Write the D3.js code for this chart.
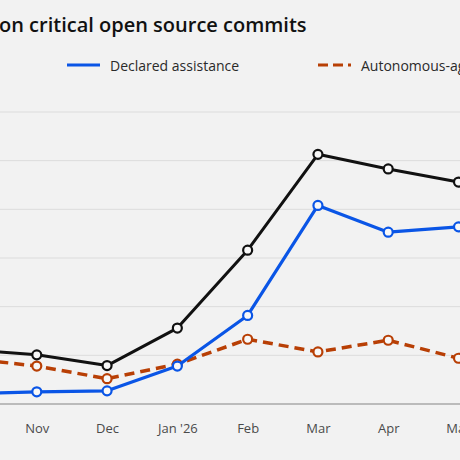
<!DOCTYPE html>
<html lang="en">
<head>
    <meta charset="UTF-8">
    <title>AI assistance on critical open source commits</title>
    <script src="https://d3js.org/d3.v7.min.js"></script>
    <style>
        html, body { margin: 0; padding: 0; background: #f2f2f2; overflow: hidden; }
        svg { display: block; font-family: "Open Sans", "Noto Sans", sans-serif; }
    </style>
</head>
<body>
    <div id="chart"></div>
    <script>
        // data (percent of commits)
        const months = ["Oct", "Nov", "Dec", "Jan '26", "Feb", "Mar", "Apr", "May"];
        const total = [1.12, 1.01, 0.79, 1.56, 3.16, 5.13, 4.83, 4.56];
        const declared = [0.21, 0.25, 0.27, 0.78, 1.82, 4.08, 3.53, 3.64];
        const autonomous = [0.94, 0.78, 0.52, 0.82, 1.33, 1.07, 1.31, 0.94];
        const yTicks = [0, 1, 2, 3, 4, 5, 6];

        const width = 460;
        const height = 460;

        const svg = d3.select("#chart").append("svg")
            .attr("width", width)
            .attr("height", height);

        // the view is a crop of a wider chart: Oct sits off the left edge
        const x = d3.scalePoint()
            .domain(months)
            .range([-33.5, 458.5]);

        const y = d3.scaleLinear()
            .domain([0, 6])
            .range([404, 112]);

        // gridlines
        svg.append("g")
            .selectAll("line")
            .data(yTicks.slice(1))
            .enter()
            .append("line")
            .attr("x1", 0)
            .attr("x2", width)
            .attr("y1", d => y(d))
            .attr("y2", d => y(d))
            .attr("stroke", "#dcdcdc")
            .attr("stroke-width", 1);

        // x axis (only the months that fall inside the view get a label)
        const xAxis = svg.append("g")
            .attr("transform", `translate(0, ${y(0)})`)
            .call(d3.axisBottom(x)
                .tickValues(months.filter(m => x(m) >= 0))
                .tickSize(0)
                .tickPadding(20));
        xAxis.select(".domain")
            .attr("d", `M0,0H${width}`)
            .attr("stroke", "#a8a8a8")
            .attr("stroke-width", 1.5);
        xAxis.selectAll("text")
            .style("font-size", "13px")
            .style("fill", "#4a4a4a")
            .style("font-family", "'Open Sans', sans-serif");

        const series = [
            { values: total, color: "#111111", width: 3, dash: null },
            { values: declared, color: "#0a55e6", width: 3.2, dash: null },
            { values: autonomous, color: "#b83f05", width: 3.5, dash: "10,6" }
        ];

        const line = d3.line()
            .x((d, i) => x(months[i]))
            .y(d => y(d));

        // draw the dashed one first so the solid lines sit on top where they cross
        [series[2], series[0], series[1]].forEach(s => {
            svg.append("path")
                .datum(s.values)
                .attr("d", line)
                .attr("fill", "none")
                .attr("stroke", s.color)
                .attr("stroke-width", s.width)
                .attr("stroke-dasharray", s.dash)
                .attr("stroke-linejoin", "round");

            svg.append("g")
                .selectAll("circle")
                .data(s.values)
                .enter()
                .append("circle")
                .attr("cx", (d, i) => x(months[i]))
                .attr("cy", d => y(d))
                .attr("r", 4.5)
                .attr("fill", "#f8f8f8")
                .attr("stroke", s.color)
                .attr("stroke-width", 2.2);
        });

        // title, cut at the left like the reference
        svg.append("text")
            .attr("x", -1)
            .attr("y", 31.5)
            .style("font-size", "20px")
            .style("font-weight", 600)
            .style("fill", "#111")
            .text("on critical open source commits");

        // legend
        const legendItems = [
            { label: "Declared assistance", color: "#0a55e6", dash: null, x: 67 },
            { label: "Autonomous-agent", color: "#b83f05", dash: "10,5", x: 318 }
        ];
        const legend = svg.append("g");
        legendItems.forEach(d => {
            legend.append("line")
                .attr("x1", d.x)
                .attr("x2", d.x + 33)
                .attr("y1", 65)
                .attr("y2", 65)
                .attr("stroke", d.color)
                .attr("stroke-width", 3)
                .attr("stroke-dasharray", d.dash);
            legend.append("text")
                .attr("x", d.x + 43)
                .attr("y", 70.5)
                .style("font-size", "14px")
                .style("fill", "#2a2a2a")
                .text(d.label);
        });
    </script>
</body>
</html>
